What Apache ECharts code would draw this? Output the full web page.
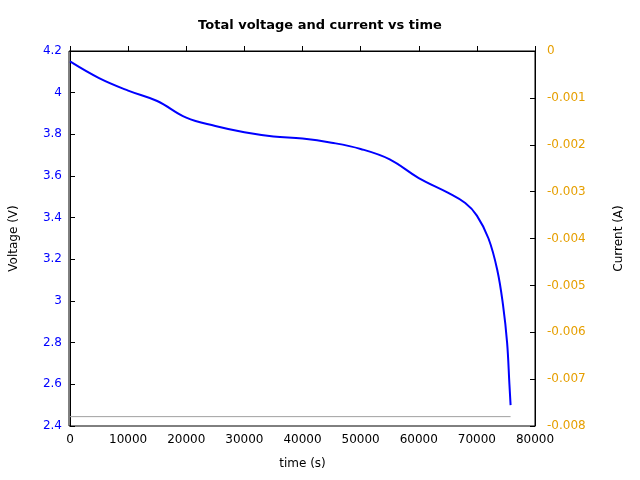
<!DOCTYPE html>
<html><head><meta charset="utf-8">
<script src="https://cdn.jsdelivr.net/npm/echarts@6/dist/echarts.min.js"></script>
<style>html,body{margin:0;background:#fff}#c{width:640px;height:480px}</style>
</head><body><div id="c"></div>
<script>
const timeS=[0,5000,10000,15000,20000,25000,30000,35000,40000,45000,50000,55000,60000,65000,68000,70000,72000,73500,74500,75200,75600,75800];
const voltage=[4.15,4.07,4.01,3.96,3.88,3.84,3.81,3.79,3.78,3.76,3.73,3.68,3.59,3.52,3.47,3.41,3.30,3.15,2.98,2.80,2.60,2.50];
const currentT=[0,75800];
const current=[-0.0078,-0.0078];
const chart=echarts.init(document.getElementById('c'));
const ax={axisLine:{show:true,lineStyle:{color:'#000'}},axisTick:{inside:true,length:5,lineStyle:{color:'#000'}},splitLine:{show:false}};
chart.setOption({
animation:false,
title:{text:'Total voltage and current vs time',left:'center',top:14,textStyle:{fontSize:13,fontWeight:'bold',fontFamily:'DejaVu Sans',color:'#000'}},
grid:{left:69,right:105,top:51,bottom:54},
xAxis:{type:'value',min:0,max:80000,interval:10000,name:'time (s)',nameLocation:'middle',nameGap:32,
 nameTextStyle:{fontSize:12,fontFamily:'DejaVu Sans',color:'#000'},
 axisLabel:{fontSize:12,fontFamily:'DejaVu Sans',color:'#000',formatter:v=>String(v)},...ax},
yAxis:[
 {type:'value',min:2.4,max:4.2,interval:0.2,name:'Voltage (V)',nameLocation:'middle',nameGap:50,
  nameTextStyle:{fontSize:12,fontFamily:'DejaVu Sans',color:'#000'},
  axisLabel:{fontSize:12,fontFamily:'DejaVu Sans',color:'#0000ff',formatter:v=>String(+v.toFixed(1))},...ax},
 {type:'value',min:-0.008,max:0,interval:0.001,position:'right',name:'Current (A)',nameLocation:'middle',nameGap:78,nameRotate:90,
  nameTextStyle:{fontSize:12,fontFamily:'DejaVu Sans',color:'#000'},
  axisLabel:{fontSize:12,fontFamily:'DejaVu Sans',color:'#e69f00',margin:12,formatter:v=>String(+v.toFixed(3))},...ax}
],
series:[
 {type:'line',yAxisIndex:0,data:timeS.map((t,i)=>[t,voltage[i]]),smooth:0.4,symbol:'none',lineStyle:{color:'#0000ff',width:2}},
 {type:'line',yAxisIndex:1,data:currentT.map((t,i)=>[t,current[i]]),symbol:'none',lineStyle:{color:'#a0a0a0',width:1}}
],
graphic:[{type:'rect',shape:{x:69,y:51,width:466,height:375},style:{fill:'none',stroke:'#000',lineWidth:1},silent:true}]
});
</script></body></html>
